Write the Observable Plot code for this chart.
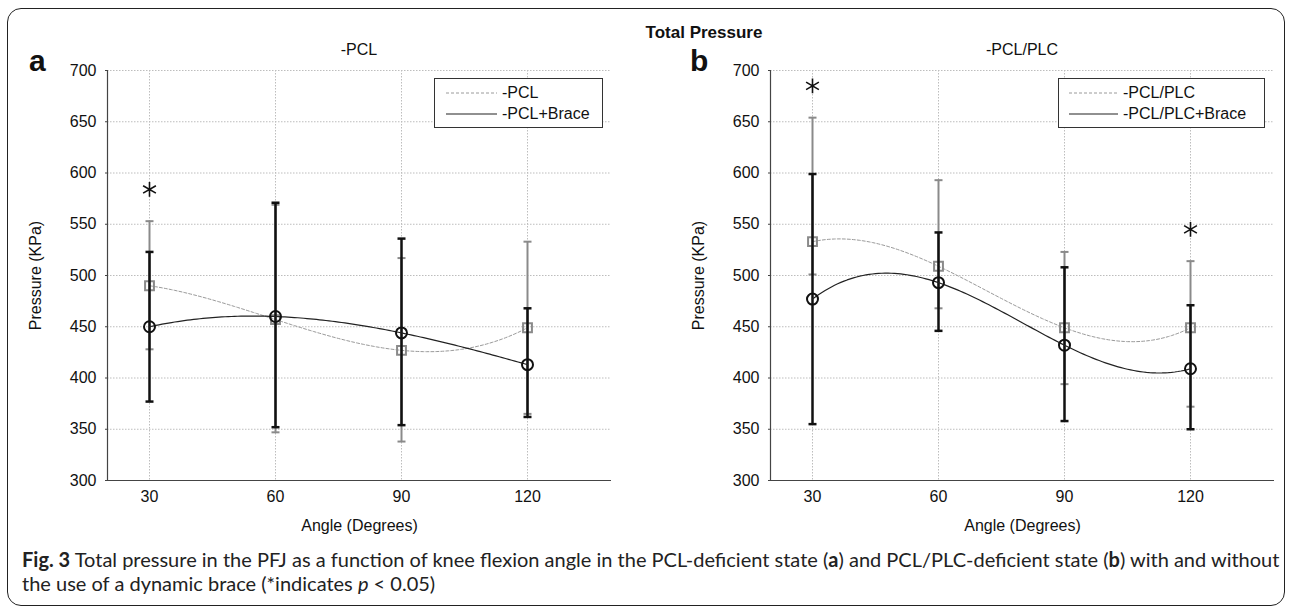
<!DOCTYPE html>
<html>
<head>
<meta charset="utf-8">
<script src="https://cdn.jsdelivr.net/npm/d3@7"></script>
<script src="https://cdn.jsdelivr.net/npm/@observablehq/plot@0.6"></script>
<style>
  html, body { margin: 0; padding: 0; background: #fff; }
  body { width: 1292px; height: 607px; position: relative; overflow: hidden; font-family: "Liberation Sans", Arial, sans-serif; color: #111; }
  .abs { position: absolute; }
  #frame { left: 7px; top: 8px; width: 1278px; height: 598px; box-sizing: border-box; border: 1.5px solid #222; border-radius: 14px; }
  #title { left: 604px; width: 200px; top: 23px; text-align: center; font-weight: bold; font-size: 17px; }
  .panel-letter { font-weight: bold; font-size: 30px; line-height: 30px; }
  .subtitle { font-size: 16px; text-align: center; width: 300px; }
  .legend { background: #fff; border: 1px solid #333; box-sizing: border-box; height: 50px; font-size: 16px; }
  .legend .row { position: absolute; left: 0; height: 20px; display: flex; align-items: center; }
  .legend svg { display: block; }
  #caption { left: 22px; top: 547px; width: 1265px; font-family: Lato, "Open Sans", sans-serif; font-size: 20px; line-height: 24px; color: #222; white-space: nowrap; }
</style>
</head>
<body>
<div id="frame" class="abs"></div>
<div id="title" class="abs">Total Pressure</div>
<div id="panelA" class="abs" style="left:0;top:0"></div>
<div id="panelB" class="abs" style="left:640px;top:0"></div>
<div class="abs panel-letter" style="left:29px;top:46px">a</div>
<div class="abs panel-letter" style="left:690px;top:46px">b</div>
<div class="abs subtitle" style="left:209px;top:41px">-PCL</div>
<div class="abs subtitle" style="left:872px;top:41px">-PCL/PLC</div>
<div id="legendA" class="abs legend" style="left:434px;top:78px;width:169px"></div>
<div id="legendB" class="abs legend" style="left:1058px;top:78px;width:207px"></div>
<div id="caption" class="abs"><b>Fig. 3</b> Total pressure in the PFJ as a function of knee flexion angle in the PCL-deficient state (<b>a</b>) and PCL/PLC-deficient state (<b>b</b>) with and without<br>the use of a dynamic brace (*indicates <i>p</i> &lt; 0.05)</div>
<script>
// ---- data ----
const angles = [30, 60, 90, 120];
const xDomain = [20, 140];
const yDomain = [300, 700];
const yTicks = [300, 350, 400, 450, 500, 550, 600, 650, 700];

// Panel a: PCL-deficient
const pclMean = [490, 457, 427, 449];
const pclLow  = [428, 347, 338, 365];
const pclHigh = [553, 569, 517, 533];
const pclBraceMean = [450, 460, 444, 413];
const pclBraceLow  = [377, 352, 354, 362];
const pclBraceHigh = [523, 571, 536, 468];
const pclStarAngles = [30];
const pclStarValues = [584];

// Panel b: PCL/PLC-deficient
const plcMean = [533, 509, 449, 449];
const plcLow  = [501, 468, 394, 372];
const plcHigh = [654, 593, 523, 514];
const plcBraceMean = [477, 493, 432, 409];
const plcBraceLow  = [355, 446, 358, 350];
const plcBraceHigh = [599, 542, 508, 471];
const plcStarAngles = [30, 120];
const plcStarValues = [685, 545];

const legendA = ["-PCL", "-PCL+Brace"];
const legendB = ["-PCL/PLC", "-PCL/PLC+Brace"];

// ---- helpers ----
const rows = (mean, low, high) => angles.map((a, i) => ({angle: a, mean: mean[i], low: low[i], high: high[i]}));
const stars = (xs, ys) => xs.map((a, i) => ({angle: a, value: ys[i]}));

// interpolating cubic (MATLAB-like spline through 4 points)
function polyCurve(context) {
  let xs, ys;
  return {
    areaStart() {}, areaEnd() {},
    lineStart() { xs = []; ys = []; },
    point(x, y) { xs.push(+x); ys.push(+y); },
    lineEnd() {
      const n = xs.length;
      const f = (x) => {
        let s = 0;
        for (let i = 0; i < n; i++) {
          let l = 1;
          for (let j = 0; j < n; j++) if (j !== i) l *= (x - xs[j]) / (xs[i] - xs[j]);
          s += ys[i] * l;
        }
        return s;
      };
      const steps = 120;
      for (let k = 0; k <= steps; k++) {
        const x = xs[0] + (xs[n - 1] - xs[0]) * k / steps;
        if (k === 0) context.moveTo(x, f(x)); else context.lineTo(x, f(x));
      }
    }
  };
}
const capSymbol = {
  draw(context, size) {
    const w = Math.sqrt(size / Math.PI);
    context.moveTo(-w, 0);
    context.lineTo(w, 0);
  }
};

function panel({noBrace, brace, star, width, marginLeft, marginRight}) {
  const grey = "#8a8a8a", black = "#111";
  return Plot.plot({
    width, height: 545,
    marginLeft, marginRight, marginTop: 70, marginBottom: 65,
    style: {fontFamily: "'Liberation Sans', Arial, sans-serif", fontSize: "16px", color: "#111", background: "transparent"},
    x: {domain: xDomain, ticks: angles},
    y: {domain: yDomain, ticks: yTicks},
    marks: [
      Plot.gridX(angles, {stroke: "#bdbdbd", strokeOpacity: 1, strokeDasharray: "1.5,1.5"}),
      Plot.gridY(yTicks, {stroke: "#bdbdbd", strokeOpacity: 1, strokeDasharray: "1.5,1.5"}),
      Plot.ruleX(xDomain.slice(0, 1), {stroke: "#444", strokeWidth: 1.2}),
      Plot.ruleY(yDomain.slice(0, 1), {stroke: "#444", strokeWidth: 1.2}),
      Plot.axisX(angles, {tickSize: 0, tickPadding: 10, label: "Angle (Degrees)", labelArrow: "none", labelAnchor: "center", labelOffset: 50, fontSize: 16}),
      Plot.axisY(yTicks, {tickSize: 2, stroke: "#444", tickPadding: 9, label: "Pressure (KPa)", labelArrow: "none", labelAnchor: "center", labelOffset: 78, fontSize: 16}),
      // without brace (grey)
      Plot.ruleX(noBrace, {x: "angle", y1: "low", y2: "high", stroke: grey, strokeWidth: 2}),
      Plot.dot(noBrace, {x: "angle", y: "low", symbol: capSymbol, r: 4, stroke: grey, strokeWidth: 2}),
      Plot.dot(noBrace, {x: "angle", y: "high", symbol: capSymbol, r: 4, stroke: grey, strokeWidth: 2}),
      Plot.line(noBrace, {x: "angle", y: "mean", curve: polyCurve, stroke: "#9a9a9a", strokeWidth: 1, strokeDasharray: "3,2"}),
      Plot.dot(noBrace, {x: "angle", y: "mean", symbol: "square", r: 5, stroke: grey, strokeWidth: 2, fill: "none"}),
      // with brace (black)
      Plot.ruleX(brace, {x: "angle", y1: "low", y2: "high", stroke: black, strokeWidth: 2.5}),
      Plot.dot(brace, {x: "angle", y: "low", symbol: capSymbol, r: 4, stroke: black, strokeWidth: 2.5}),
      Plot.dot(brace, {x: "angle", y: "high", symbol: capSymbol, r: 4, stroke: black, strokeWidth: 2.5}),
      Plot.line(brace, {x: "angle", y: "mean", curve: polyCurve, stroke: "#222", strokeWidth: 1.2}),
      Plot.dot(brace, {x: "angle", y: "mean", symbol: "circle", r: 5.5, stroke: black, strokeWidth: 2, fill: "none"}),
      // significance
      Plot.dot(star, {x: "angle", y: "value", symbol: "asterisk", r: 7, stroke: "#111", strokeWidth: 1.6})
    ]
  });
}

document.getElementById("panelA").append(panel({
  noBrace: rows(pclMean, pclLow, pclHigh),
  brace: rows(pclBraceMean, pclBraceLow, pclBraceHigh),
  star: stars(pclStarAngles, pclStarValues),
  width: 640, marginLeft: 107, marginRight: 29
}));
document.getElementById("panelB").append(panel({
  noBrace: rows(plcMean, plcLow, plcHigh),
  brace: rows(plcBraceMean, plcBraceLow, plcBraceHigh),
  star: stars(plcStarAngles, plcStarValues),
  width: 652, marginLeft: 130, marginRight: 18
}));

function legend(el, labels, lineX0, lineX1, textX) {
  const styles = [{stroke: "#9a9a9a", dash: "3,2", w: 1}, {stroke: "#222", dash: null, w: 1.2}];
  labels.forEach((lab, i) => {
    const row = document.createElement("div");
    row.className = "row";
    row.style.top = (4 + i * 21) + "px";
    const s = styles[i];
    row.innerHTML = `<svg width="${textX}" height="20"><line x1="${lineX0}" x2="${lineX1}" y1="10" y2="10" stroke="${s.stroke}" stroke-width="${s.w}" ${s.dash ? `stroke-dasharray="${s.dash}"` : ""}/></svg><span>${lab}</span>`;
    el.append(row);
  });
}
legend(document.getElementById("legendA"), legendA, 11, 62, 67);
legend(document.getElementById("legendB"), legendB, 10, 59, 64);
</script>
</body>
</html>
